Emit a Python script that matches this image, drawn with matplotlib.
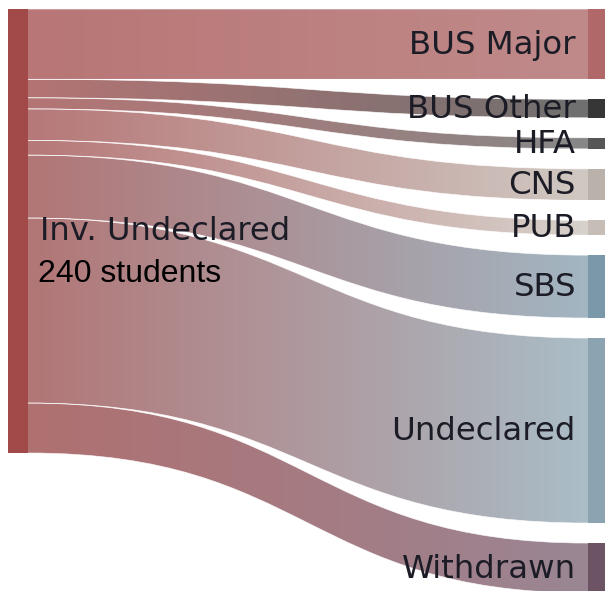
import numpy as np
import matplotlib
matplotlib.use("Agg")
import matplotlib.pyplot as plt
from matplotlib.path import Path
from matplotlib.patches import PathPatch, Rectangle
from matplotlib.colors import to_rgb

source_label = "Inv. Undeclared"
source_total = "240 students"
targets = ["BUS Major", "BUS Other", "HFA", "CNS", "PUB", "SBS", "Undeclared", "Withdrawn"]
counts = [38, 10, 6, 17, 8, 34, 100, 27]

source_color = "#a24a4a"
node_colors = ["#b06868", "#363636", "#565656", "#bab2aa", "#c6beb6", "#7a98aa", "#8ca4b2", "#6c5464"]
link_start = ["#b87676", "#b47474", "#b47474", "#b67878", "#b67878", "#b27676", "#b27676", "#b07070"]
link_end = ["#c08a8a", "#707070", "#888888", "#d0c9c3", "#d8d2cc", "#a2b6c2", "#aabdc7", "#9a8694"]

W, H = 605, 591
fig = plt.figure(figsize=(W / 100, H / 100), dpi=100)
ax = fig.add_axes([0, 0, 1, 1])
ax.set_xlim(0, W)
ax.set_ylim(H, 0)
ax.axis("off")

top = 9
scale = 1.85
pad = 20
lx0, lx1 = 8, 28
rx0, rx1 = 588, 608
xm = (lx1 + rx0) / 2
txt_color = "#1c1c26"


def curve(ya, yb):
    return Path([(lx1, ya), (xm, ya), (xm, yb), (rx0, yb)],
                [Path.MOVETO, Path.CURVE4, Path.CURVE4, Path.CURVE4])


s_y = top
t_y = top
grad = np.linspace(0, 1, 256)
for name, n, col, c0, c1 in zip(targets, counts, node_colors, link_start, link_end):
    h = n * scale
    s_top, s_bot = s_y, s_y + h
    t_top, t_bot = t_y, t_y + h
    verts = [(lx1, s_top), (xm, s_top), (xm, t_top), (rx0, t_top),
             (rx0, t_bot), (xm, t_bot), (xm, s_bot), (lx1, s_bot), (lx1, s_top)]
    codes = [Path.MOVETO, Path.CURVE4, Path.CURVE4, Path.CURVE4,
             Path.LINETO, Path.CURVE4, Path.CURVE4, Path.CURVE4, Path.CLOSEPOLY]
    patch = PathPatch(Path(verts, codes), facecolor="none", edgecolor="none")
    ax.add_patch(patch)
    a, b = np.array(to_rgb(c0)), np.array(to_rgb(c1))
    img = (a[None, :] * (1 - grad[:, None]) + b[None, :] * grad[:, None])[None, :, :]
    im = ax.imshow(img, extent=[lx1, rx0 + 1, max(s_bot, t_bot), min(s_top, t_top)],
                   aspect="auto", interpolation="bilinear", zorder=1)
    im.set_clip_path(patch)
    # soft white boundary along the link edges
    for p in (curve(s_top, t_top), curve(s_bot, t_bot)):
        ax.add_patch(PathPatch(p, facecolor="none", edgecolor="white", lw=0.5, alpha=0.8, zorder=2))

    ax.add_patch(Rectangle((rx0, t_top), rx1 - rx0, h, facecolor=col, lw=0, zorder=3))
    ax.text(576, (t_top + t_bot) / 2 + 1, name, ha="right", va="center",
            fontsize=23.3, family="DejaVu Sans", color=txt_color, zorder=4)
    s_y = s_bot
    t_y = t_bot + pad

# source node
ax.add_patch(Rectangle((lx0, top), lx1 - lx0, s_y - top, facecolor=source_color, lw=0, zorder=3))
ax.text(40, (top + s_y) / 2, source_label, ha="left", va="center",
        fontsize=23.2, family="DejaVu Sans", color=txt_color, zorder=4)
ax.text(38, 274, source_total, ha="left", va="center",
        fontsize=23, family="Liberation Sans", color="black", zorder=4)

fig.savefig("out.png", dpi=100)
